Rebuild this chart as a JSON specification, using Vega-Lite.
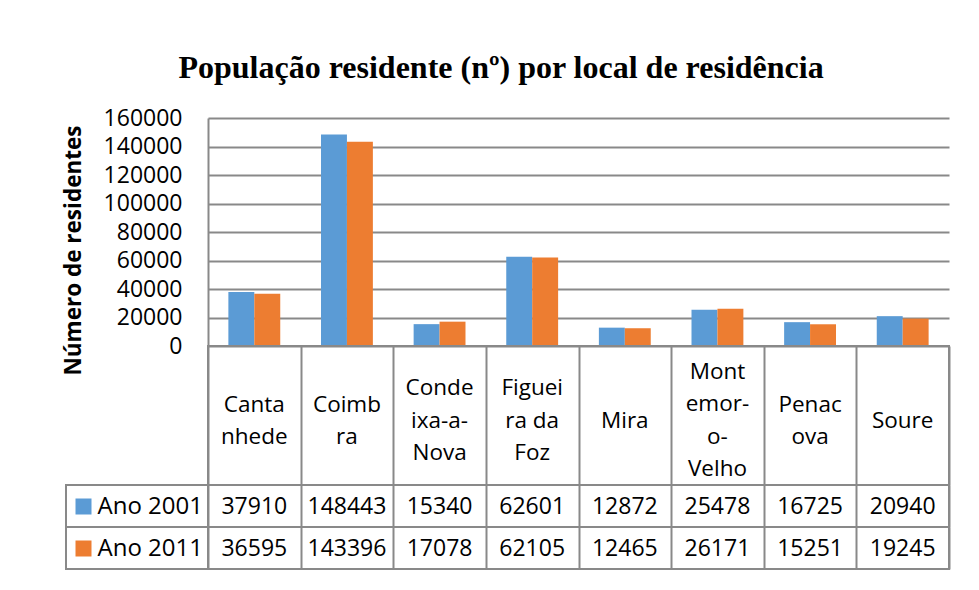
{
  "$schema": "https://vega.github.io/schema/vega-lite/v6.json",
  "background": "white",
  "padding": {"left": 62, "top": 52, "right": 25, "bottom": 15},
  "title": {
    "text": "População residente (nº) por local de residência",
    "font": "Liberation Serif",
    "fontSize": 32,
    "fontWeight": "bold",
    "color": "black",
    "anchor": "middle",
    "dx": -5,
    "offset": 22
  },
  "datasets": {
    "pop": [
      {"local": "Cantanhede", "rotulo": "Canta\nnhede", "ano": "Ano 2001", "valor": 37910},
      {"local": "Coimbra", "rotulo": "Coimb\nra", "ano": "Ano 2001", "valor": 148443},
      {"local": "Condeixa-a-Nova", "rotulo": "Conde\nixa-a-\nNova", "ano": "Ano 2001", "valor": 15340},
      {"local": "Figueira da Foz", "rotulo": "Figuei\nra da\nFoz", "ano": "Ano 2001", "valor": 62601},
      {"local": "Mira", "rotulo": "Mira", "ano": "Ano 2001", "valor": 12872},
      {"local": "Montemor-o-Velho", "rotulo": "Mont\nemor-\no-\nVelho", "ano": "Ano 2001", "valor": 25478},
      {"local": "Penacova", "rotulo": "Penac\nova", "ano": "Ano 2001", "valor": 16725},
      {"local": "Soure", "rotulo": "Soure", "ano": "Ano 2001", "valor": 20940},
      {"local": "Cantanhede", "rotulo": "Canta\nnhede", "ano": "Ano 2011", "valor": 36595},
      {"local": "Coimbra", "rotulo": "Coimb\nra", "ano": "Ano 2011", "valor": 143396},
      {"local": "Condeixa-a-Nova", "rotulo": "Conde\nixa-a-\nNova", "ano": "Ano 2011", "valor": 17078},
      {"local": "Figueira da Foz", "rotulo": "Figuei\nra da\nFoz", "ano": "Ano 2011", "valor": 62105},
      {"local": "Mira", "rotulo": "Mira", "ano": "Ano 2011", "valor": 12465},
      {"local": "Montemor-o-Velho", "rotulo": "Mont\nemor-\no-\nVelho", "ano": "Ano 2011", "valor": 26171},
      {"local": "Penacova", "rotulo": "Penac\nova", "ano": "Ano 2011", "valor": 15251},
      {"local": "Soure", "rotulo": "Soure", "ano": "Ano 2011", "valor": 19245}
    ]
  },
  "columns": 2,
  "spacing": 0,
  "bounds": "flush",
  "concat": [
    {
      "width": 142, "height": 228,
      "view": {"stroke": null},
      "data": {"values": [{}]},
      "mark": {"type": "text", "text": ""}
    },
    {
      "width": 741, "height": 228,
      "view": {"stroke": null},
      "data": {"name": "pop"},
      "mark": {"type": "bar"},
      "encoding": {
        "x": {"field": "local", "type": "nominal",
              "sort": ["Cantanhede", "Coimbra", "Condeixa-a-Nova", "Figueira da Foz", "Mira", "Montemor-o-Velho", "Penacova", "Soure"],
              "scale": {"paddingInner": 0.44, "paddingOuter": 0.22}, "axis": null},
        "xOffset": {"field": "ano", "type": "nominal", "scale": {"paddingInner": 0}},
        "y": {"field": "valor", "type": "quantitative",
              "scale": {"domain": [0, 160000], "nice": false},
              "axis": {
                "values": [0, 20000, 40000, 60000, 80000, 100000, 120000, 140000, 160000],
                "format": "d", "grid": true, "ticks": false, "domain": true,
                "domainColor": "#898989", "domainWidth": 2,
                "gridColor": "#898989", "gridWidth": 2,
                "labelFontSize": 23, "labelPadding": 26, "labelColor": "black",
                "title": "Número de residentes", "titleFontSize": 22.5,
                "titleFontWeight": "bold", "titleColor": "black", "titlePadding": 18,
                "titleY": 132
              }},
        "color": {"field": "ano", "type": "nominal",
                  "scale": {"domain": ["Ano 2001", "Ano 2011"], "range": ["#5B9BD5", "#ED7D31"]},
                  "legend": null}
      }
    },
    {
      "width": 142, "height": 139,
      "view": {"stroke": null},
      "data": {"values": [{}]},
      "mark": {"type": "text", "text": ""}
    },
    {
      "width": 741, "height": 139,
      "data": {"name": "pop"},
      "transform": [{"filter": "datum.ano == 'Ano 2001'"}],
      "encoding": {
        "x": {"field": "local", "type": "nominal",
              "sort": ["Cantanhede", "Coimbra", "Condeixa-a-Nova", "Figueira da Foz", "Mira", "Montemor-o-Velho", "Penacova", "Soure"],
              "scale": {"paddingInner": 0, "paddingOuter": 0},
              "axis": {"grid": true, "tickBand": "extent", "labels": false, "ticks": false, "domain": false, "title": null}},
        "text": {"field": "rotulo", "type": "nominal"}
      },
      "layer": [
        {
          "transform": [{"filter": "split(datum.rotulo, '\\n').length == 1"}],
          "mark": {"type": "text", "fontSize": 22.5, "lineBreak": "\n", "lineHeight": 32.5, "baseline": "middle", "color": "black", "dy": 5}
        },
        {
          "transform": [{"filter": "split(datum.rotulo, '\\n').length == 2"}],
          "mark": {"type": "text", "fontSize": 22.5, "lineBreak": "\n", "lineHeight": 32.5, "baseline": "middle", "color": "black", "dy": -11}
        },
        {
          "transform": [{"filter": "split(datum.rotulo, '\\n').length == 3"}],
          "mark": {"type": "text", "fontSize": 22.5, "lineBreak": "\n", "lineHeight": 32.5, "baseline": "middle", "color": "black", "dy": -27.5}
        },
        {
          "transform": [{"filter": "split(datum.rotulo, '\\n').length == 4"}],
          "mark": {"type": "text", "fontSize": 22.5, "lineBreak": "\n", "lineHeight": 32.5, "baseline": "middle", "color": "black", "dy": -44}
        }
      ]
    },
    {
      "width": 142, "height": 42,
      "data": {"name": "pop"},
      "transform": [{"filter": "datum.ano == 'Ano 2001'"}],
      "mark": {"type": "text", "text": ""},
      "encoding": {
        "y": {"field": "ano", "type": "nominal",
              "axis": {"orient": "left", "offset": -9, "domain": false, "grid": false,
                       "ticks": true, "tickSize": -16, "tickWidth": 16, "tickColor": "#5B9BD5",
                       "labelAlign": "left", "labelPadding": -6, "labelFontSize": 24,
                       "labelColor": "black", "title": null}}
      }
    },
    {
      "width": 741, "height": 42,
      "data": {"name": "pop"},
      "transform": [{"filter": "datum.ano == 'Ano 2001'"}],
      "mark": {"type": "text", "fontSize": 23, "baseline": "middle", "color": "black", "dy": 1},
      "encoding": {
        "x": {"field": "local", "type": "nominal",
              "sort": ["Cantanhede", "Coimbra", "Condeixa-a-Nova", "Figueira da Foz", "Mira", "Montemor-o-Velho", "Penacova", "Soure"],
              "scale": {"paddingInner": 0, "paddingOuter": 0},
              "axis": {"grid": true, "tickBand": "extent", "labels": false, "ticks": false, "domain": false, "title": null}},
        "text": {"field": "valor", "type": "quantitative", "format": "d"}
      }
    },
    {
      "width": 142, "height": 42,
      "data": {"name": "pop"},
      "transform": [{"filter": "datum.ano == 'Ano 2011'"}],
      "mark": {"type": "text", "text": ""},
      "encoding": {
        "y": {"field": "ano", "type": "nominal",
              "axis": {"orient": "left", "offset": -9, "domain": false, "grid": false,
                       "ticks": true, "tickSize": -16, "tickWidth": 16, "tickColor": "#ED7D31",
                       "labelAlign": "left", "labelPadding": -6, "labelFontSize": 24,
                       "labelColor": "black", "title": null}}
      }
    },
    {
      "width": 741, "height": 42,
      "data": {"name": "pop"},
      "transform": [{"filter": "datum.ano == 'Ano 2011'"}],
      "mark": {"type": "text", "fontSize": 23, "baseline": "middle", "color": "black", "dy": 1},
      "encoding": {
        "x": {"field": "local", "type": "nominal",
              "sort": ["Cantanhede", "Coimbra", "Condeixa-a-Nova", "Figueira da Foz", "Mira", "Montemor-o-Velho", "Penacova", "Soure"],
              "scale": {"paddingInner": 0, "paddingOuter": 0},
              "axis": {"grid": true, "tickBand": "extent", "labels": false, "ticks": false, "domain": false, "title": null}},
        "text": {"field": "valor", "type": "quantitative", "format": "d"}
      }
    }
  ],
  "config": {
    "font": "Open Sans",
    "view": {"stroke": "#898989", "strokeWidth": 2},
    "axis": {"gridColor": "#898989", "gridWidth": 2, "labelFont": "Open Sans", "titleFont": "Open Sans"}
  }
}
